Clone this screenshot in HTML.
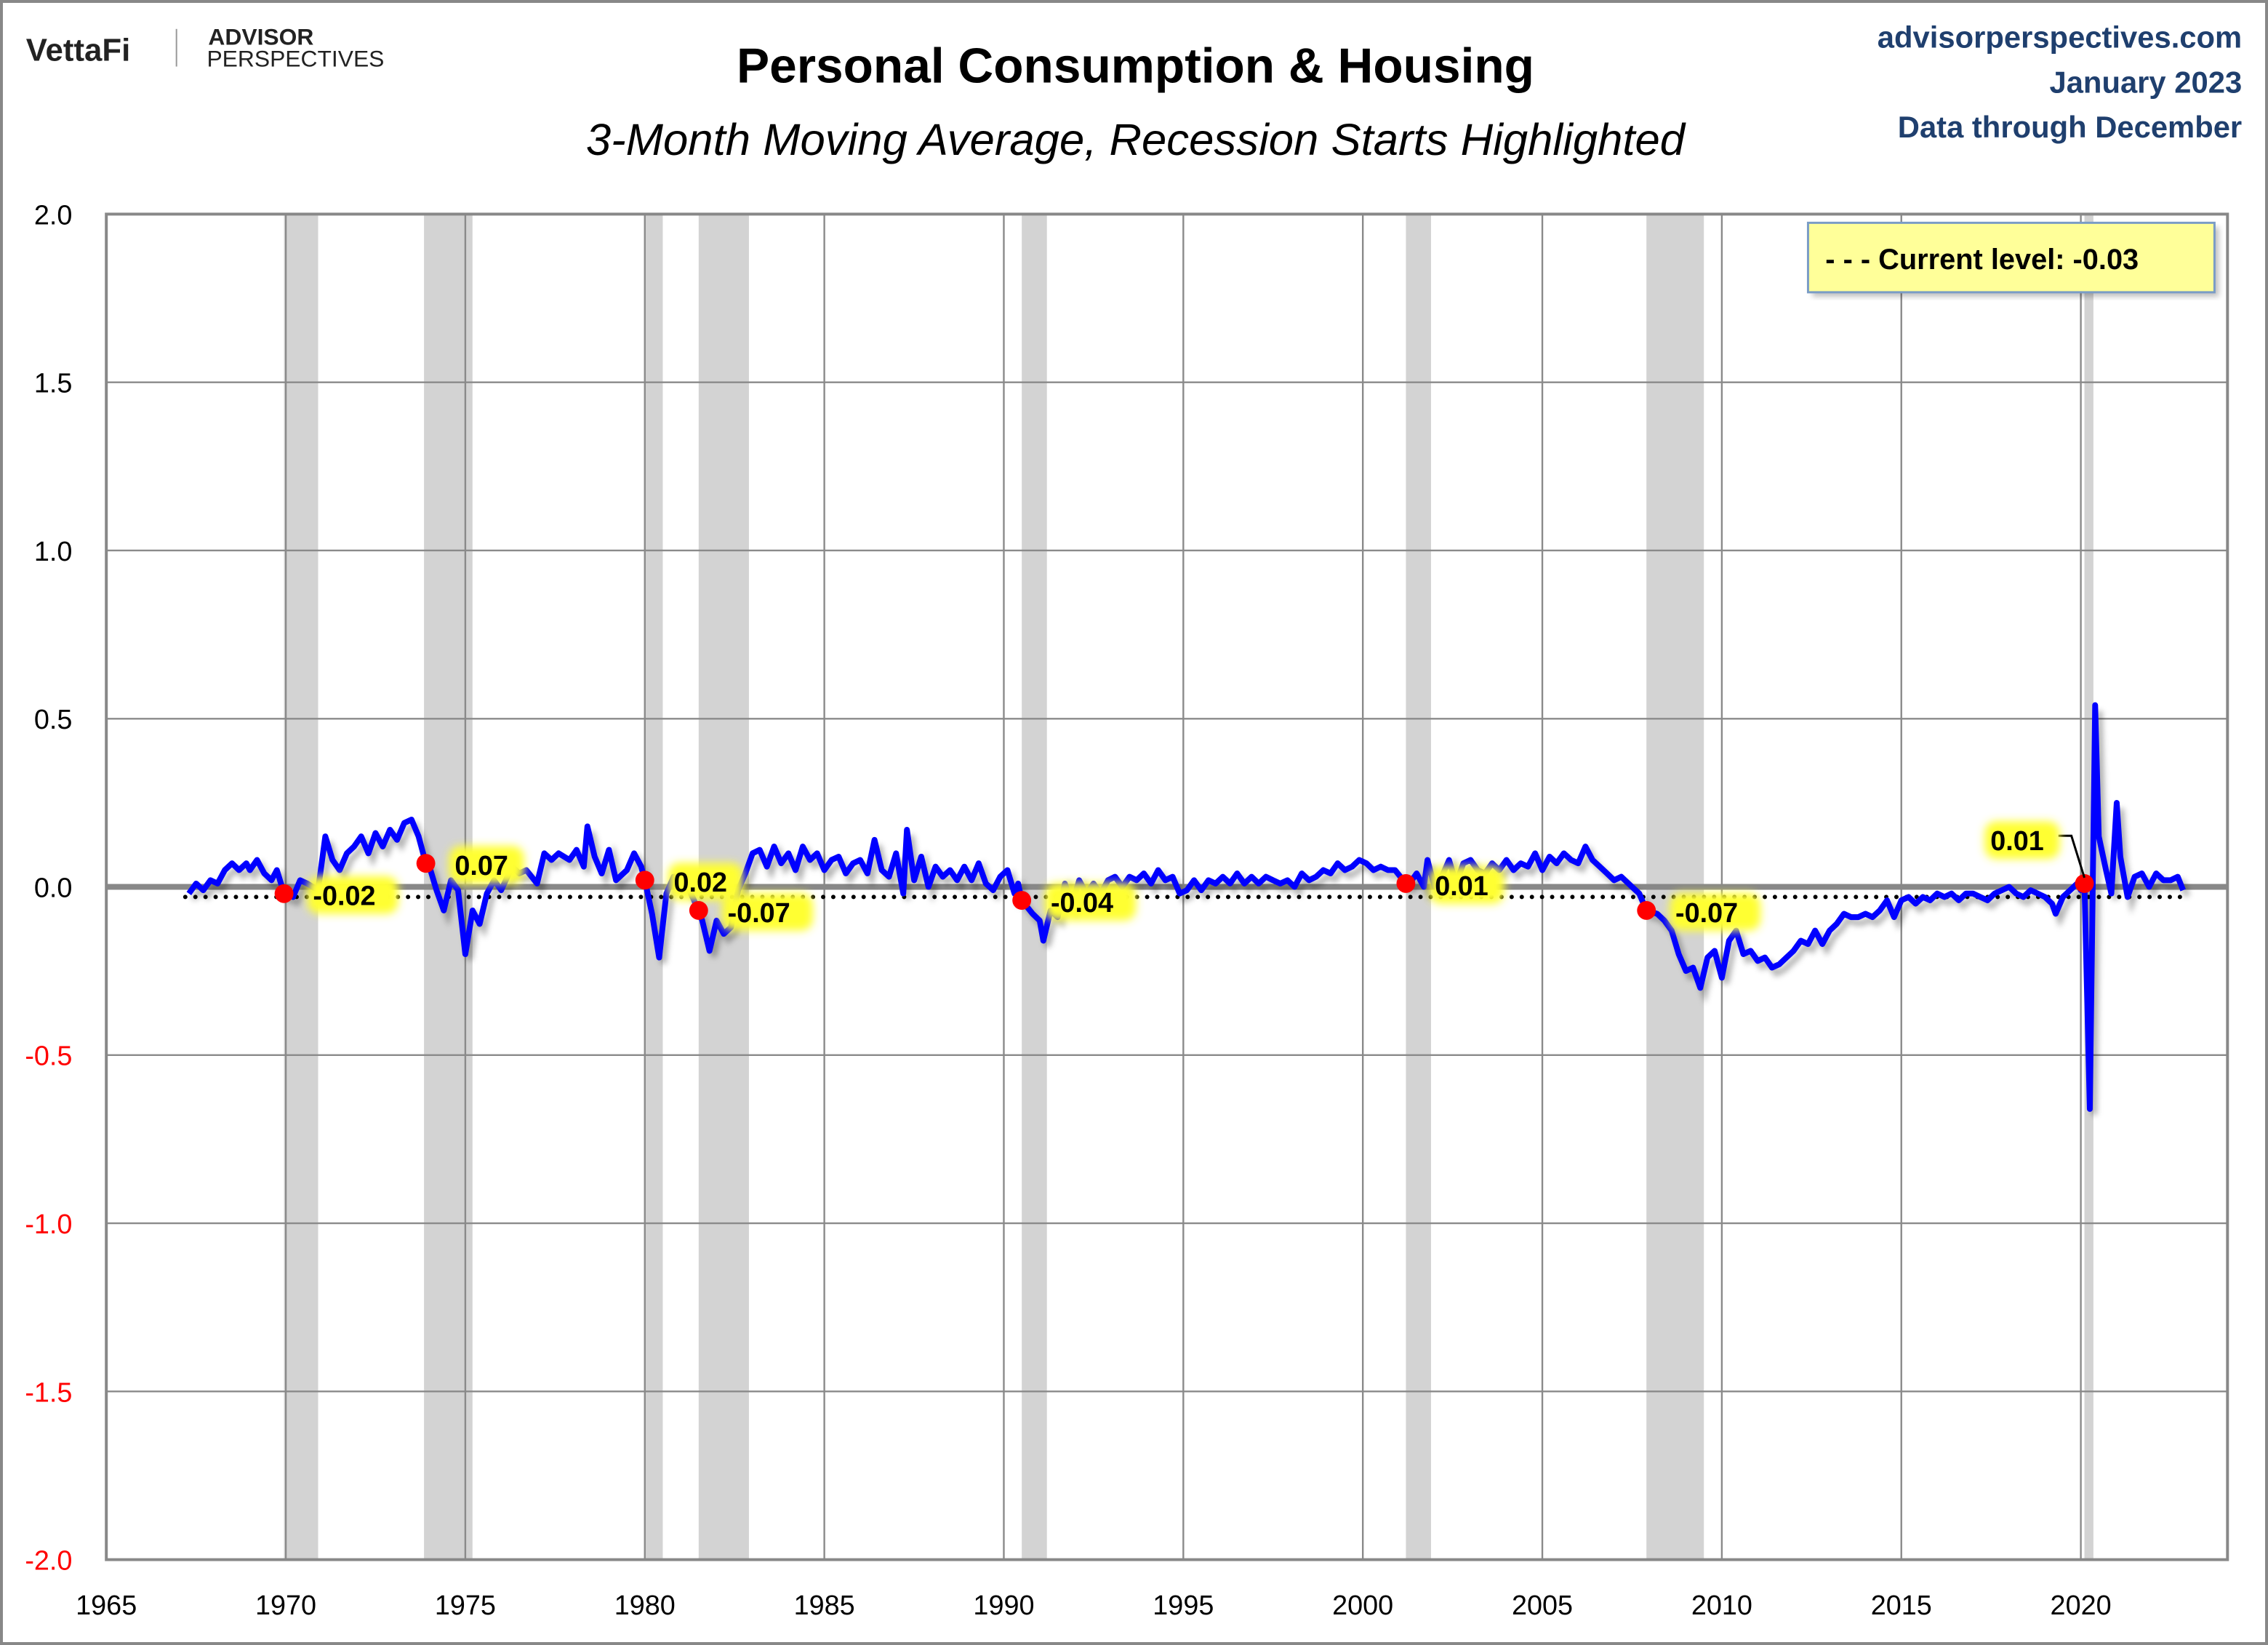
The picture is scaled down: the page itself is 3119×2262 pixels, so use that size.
<!DOCTYPE html>
<html><head><meta charset="utf-8"><style>
html,body{margin:0;padding:0;background:#fff}
svg{display:block}
text{font-family:"Liberation Sans",sans-serif}
</style></head><body>
<svg id="chart" width="3119" height="2262" viewBox="0 0 1568 1137" preserveAspectRatio="none" xmlns="http://www.w3.org/2000/svg">
<defs><filter id="glow" x="-20%" y="-40%" width="140%" height="180%"><feGaussianBlur stdDeviation="3"/></filter>
<filter id="shadow" x="-5%" y="-5%" width="110%" height="110%"><feGaussianBlur stdDeviation="2"/></filter></defs>
<rect x="1" y="1" width="1566" height="1135" fill="#fff" stroke="#888" stroke-width="2"/>
<g>
<text x="18" y="42" font-size="22" font-weight="bold" fill="#222">VettaFi</text>
<line x1="122" y1="20" x2="122" y2="46" stroke="#999" stroke-width="1"/>
<text x="144" y="31" font-size="16" font-weight="bold" fill="#222">ADVISOR</text>
<text x="143" y="46" font-size="16" fill="#222">PERSPECTIVES</text>
</g>
<text x="785" y="57" font-size="34" font-weight="bold" text-anchor="middle" fill="#000">Personal Consumption &amp; Housing</text>
<text x="785" y="107" font-size="31" font-style="italic" text-anchor="middle" fill="#000">3-Month Moving Average, Recession Starts Highlighted</text>
<text x="1550" y="33" font-size="21" font-weight="bold" text-anchor="end" fill="#1f3f6e">advisorperspectives.com</text>
<text x="1550" y="64" font-size="21" font-weight="bold" text-anchor="end" fill="#1f3f6e">January 2023</text>
<text x="1550" y="95" font-size="21" font-weight="bold" text-anchor="end" fill="#1f3f6e">Data through December</text>
<g id="plot"></g>
</svg>
<script>
const yearsRec = [[1969.95,1970.9],[1973.85,1975.2],[1980.0,1980.5],[1981.5,1982.9],[1990.5,1991.2],[2001.2,2001.9],[2007.9,2009.5],[2020.1,2020.35]];
const xTicks = [1965,1970,1975,1980,1985,1990,1995,2000,2005,2010,2015,2020];
const yTicks = [2.0,1.5,1.0,0.5,0.0,-0.5,-1.0,-1.5,-2.0];
const currentLevel = -0.03;
const dates = [1967.3,1967.5,1967.7,1967.9,1968.1,1968.3,1968.5,1968.7,1968.9,1969.0,1969.2,1969.4,1969.6,1969.75,1969.95,1970.2,1970.4,1970.6,1970.9,1971.1,1971.3,1971.5,1971.7,1971.9,1972.1,1972.3,1972.5,1972.7,1972.9,1973.1,1973.3,1973.5,1973.7,1973.9,1974.0,1974.2,1974.4,1974.6,1974.8,1975.0,1975.2,1975.4,1975.6,1975.8,1976.0,1976.3,1976.5,1976.7,1977.0,1977.2,1977.4,1977.6,1977.9,1978.1,1978.3,1978.4,1978.6,1978.8,1979.0,1979.2,1979.5,1979.7,1979.9,1980.0,1980.2,1980.4,1980.6,1980.8,1981.0,1981.2,1981.5,1981.6,1981.8,1982.0,1982.2,1982.4,1982.6,1982.8,1983.0,1983.2,1983.4,1983.6,1983.8,1984.0,1984.2,1984.4,1984.6,1984.8,1985.0,1985.2,1985.4,1985.6,1985.8,1986.0,1986.2,1986.4,1986.6,1986.8,1987.0,1987.2,1987.3,1987.5,1987.7,1987.9,1988.1,1988.3,1988.5,1988.7,1988.9,1989.1,1989.3,1989.5,1989.7,1989.9,1990.1,1990.3,1990.4,1990.5,1990.8,1991.0,1991.1,1991.3,1991.5,1991.7,1991.9,1992.1,1992.3,1992.5,1992.7,1992.9,1993.1,1993.3,1993.5,1993.7,1993.9,1994.1,1994.3,1994.5,1994.7,1994.9,1995.1,1995.3,1995.5,1995.7,1995.9,1996.1,1996.3,1996.5,1996.7,1996.9,1997.1,1997.3,1997.5,1997.7,1997.9,1998.1,1998.3,1998.5,1998.7,1998.9,1999.1,1999.3,1999.5,1999.7,1999.9,2000.1,2000.3,2000.5,2000.7,2000.9,2001.2,2001.3,2001.5,2001.7,2001.8,2002.0,2002.2,2002.4,2002.6,2002.8,2003.0,2003.2,2003.4,2003.6,2003.8,2004.0,2004.2,2004.4,2004.6,2004.8,2005.0,2005.2,2005.4,2005.6,2005.8,2006.0,2006.2,2006.4,2006.6,2006.8,2007.0,2007.2,2007.5,2007.7,2007.9,2008.2,2008.4,2008.6,2008.8,2009.0,2009.2,2009.4,2009.6,2009.8,2010.0,2010.2,2010.4,2010.6,2010.8,2011.0,2011.2,2011.4,2011.6,2011.8,2012.0,2012.2,2012.4,2012.6,2012.8,2013.0,2013.2,2013.4,2013.6,2013.8,2014.0,2014.2,2014.4,2014.6,2014.8,2015.0,2015.2,2015.4,2015.6,2015.8,2016.0,2016.2,2016.4,2016.6,2016.8,2017.0,2017.2,2017.4,2017.6,2017.8,2018.0,2018.2,2018.4,2018.6,2018.8,2019.0,2019.2,2019.3,2019.5,2019.7,2019.9,2020.0,2020.1,2020.25,2020.4,2020.5,2020.7,2020.85,2021.0,2021.1,2021.3,2021.5,2021.7,2021.9,2022.1,2022.3,2022.5,2022.7,2022.85];
const values = [-0.02,0.01,-0.01,0.02,0.01,0.05,0.07,0.05,0.07,0.05,0.08,0.04,0.02,0.05,-0.02,-0.03,0.02,0.01,-0.01,0.15,0.08,0.05,0.10,0.12,0.15,0.10,0.16,0.12,0.17,0.14,0.19,0.20,0.15,0.07,0.06,-0.01,-0.07,0.02,-0.01,-0.20,-0.07,-0.11,-0.02,0.02,-0.01,0.06,0.04,0.05,0.01,0.10,0.08,0.10,0.08,0.11,0.06,0.18,0.09,0.04,0.11,0.02,0.05,0.10,0.06,0.02,-0.08,-0.21,-0.02,0.03,0.03,0.00,-0.07,-0.10,-0.19,-0.10,-0.14,-0.12,-0.01,0.04,0.10,0.11,0.06,0.12,0.07,0.10,0.05,0.12,0.08,0.10,0.05,0.08,0.09,0.04,0.07,0.08,0.04,0.14,0.05,0.03,0.10,-0.02,0.17,0.02,0.09,0.00,0.06,0.03,0.05,0.02,0.06,0.02,0.07,0.01,-0.01,0.03,0.05,-0.02,0.01,-0.04,-0.08,-0.10,-0.16,-0.07,-0.09,0.01,-0.05,0.02,-0.02,0.01,-0.02,0.02,0.03,0.00,0.03,0.02,0.04,0.01,0.05,0.02,0.03,-0.02,-0.01,0.02,-0.01,0.02,0.01,0.03,0.01,0.04,0.01,0.03,0.01,0.03,0.02,0.01,0.02,0.00,0.04,0.02,0.03,0.05,0.04,0.07,0.05,0.06,0.08,0.07,0.05,0.06,0.05,0.05,0.01,0.01,0.04,0.00,0.08,0.00,0.03,0.08,0.01,0.07,0.08,0.05,0.04,0.07,0.05,0.08,0.05,0.07,0.06,0.10,0.05,0.09,0.07,0.10,0.08,0.07,0.12,0.08,0.06,0.04,0.02,0.03,0.00,-0.02,-0.07,-0.08,-0.10,-0.13,-0.20,-0.25,-0.24,-0.30,-0.21,-0.19,-0.27,-0.16,-0.13,-0.20,-0.19,-0.22,-0.21,-0.24,-0.23,-0.21,-0.19,-0.16,-0.17,-0.13,-0.17,-0.13,-0.11,-0.08,-0.09,-0.09,-0.08,-0.09,-0.07,-0.04,-0.09,-0.04,-0.03,-0.05,-0.03,-0.04,-0.02,-0.03,-0.02,-0.04,-0.02,-0.02,-0.03,-0.04,-0.02,-0.01,0.00,-0.02,-0.03,-0.01,-0.02,-0.03,-0.05,-0.08,-0.03,-0.01,0.01,-0.01,0.01,-0.66,0.54,0.15,0.05,-0.02,0.25,0.09,-0.03,0.03,0.04,0.00,0.04,0.02,0.02,0.03,-0.01];
const markDates = [1969.95,1973.9,1980.0,1981.5,1990.5,2001.2,2007.9,2020.1];
const markValues = [-0.02,0.07,0.02,-0.07,-0.04,0.01,-0.07,0.01];
const markLabels = ["-0.02","0.07","0.02","-0.07","-0.04","0.01","-0.07","0.01"];

const L=73.5,R=1540,T=148,B=1078;
const X=yr=>L+(yr-1965)*24.82;
const Y=v=>T+(2-v)*(B-T)/4;
const NS="http://www.w3.org/2000/svg";
const g=document.getElementById('plot');
function mk(tag,at,parent){const e=document.createElementNS(NS,tag);for(const k in at)e.setAttribute(k,at[k]);(parent||g).appendChild(e);return e;}

yearsRec.forEach(r=>{const e=mk('rect',{x:X(r[0]),y:T,width:X(r[1])-X(r[0]),height:B-T,fill:'#d3d3d3'});

});
xTicks.forEach(t=>{const e=mk('line',{x1:X(t),x2:X(t),y1:T,y2:B,stroke:'#8a8a8a','stroke-width':1.2});


const tx=mk('text',{x:X(t),y:B+38,'font-size':19,'text-anchor':'middle',fill:'#000'});tx.textContent=t;

});
yTicks.forEach(t=>{const e=mk('line',{x1:L,x2:R,y1:Y(t),y2:Y(t),stroke:t===0?'#888':'#8a8a8a','stroke-width':t===0?4:1.2});


const tx=mk('text',{x:50,y:Y(t)+7,'font-size':19,'text-anchor':'end',fill:t<0?'#ff0000':'#000'});tx.textContent=t.toFixed(1);

});
const frame=mk('rect',{x:L,y:T,width:R-L,height:B-T,fill:'none',stroke:'#888','stroke-width':2});


const cur=mk('line',{x1:X(1967.2),x2:X(2022.9),y1:Y(currentLevel),y2:Y(currentLevel),stroke:'#000','stroke-width':3,'stroke-dasharray':'0 7','stroke-linecap':'round'});


const pts=dates.map((d,i)=>X(d).toFixed(1)+','+Y(values[i]).toFixed(1)).join(' ');
const sh=mk('polyline',{points:pts,fill:'none',stroke:'#000','stroke-opacity':0.3,'stroke-width':4,transform:'translate(3,4)',filter:'url(#shadow)'});


const line=mk('polyline',{points:pts,fill:'none',stroke:'#0000ff','stroke-width':4,'stroke-linejoin':'round'});


markDates.forEach((d,i)=>{
  const cx=X(d),cy=Y(markValues[i]);
  const dot=mk('circle',{cx:cx,cy:cy,r:6.5,fill:'#ff0000'});
  
  
  let lx=cx+20,ly=cy+8;
  if(i===7){lx=cx-65;ly=cy-23;
    const ld=mk('polyline',{points:`${cx-18},${cy-33} ${cx-9},${cy-33} ${cx},${cy-4}`,fill:'none',stroke:'#000','stroke-width':1.5});
    
    }
  const gl=mk('rect',{x:lx-4,y:ly-20,width:markLabels[i].length*11+8,height:26,rx:8,fill:'#ffff33',filter:'url(#glow)'});
  
  
  const t=mk('text',{x:lx,y:ly,'font-size':19,'font-weight':'bold',fill:'#000'});t.textContent=markLabels[i];
  
  
});
const lg=mk('g',{});


mk('rect',{x:1253,y:157,width:281,height:48,fill:'#000','fill-opacity':0.25,filter:'url(#shadow)'},lg);
mk('rect',{x:1250,y:154,width:281,height:48,fill:'#ffff99',stroke:'#7a9cc6','stroke-width':1.5},lg);
const lt=mk('text',{x:1262,y:186,'font-size':20,'font-weight':'bold',fill:'#000'},lg);lt.textContent='- - -  Current level:  -0.03';


</script>
</body></html>
